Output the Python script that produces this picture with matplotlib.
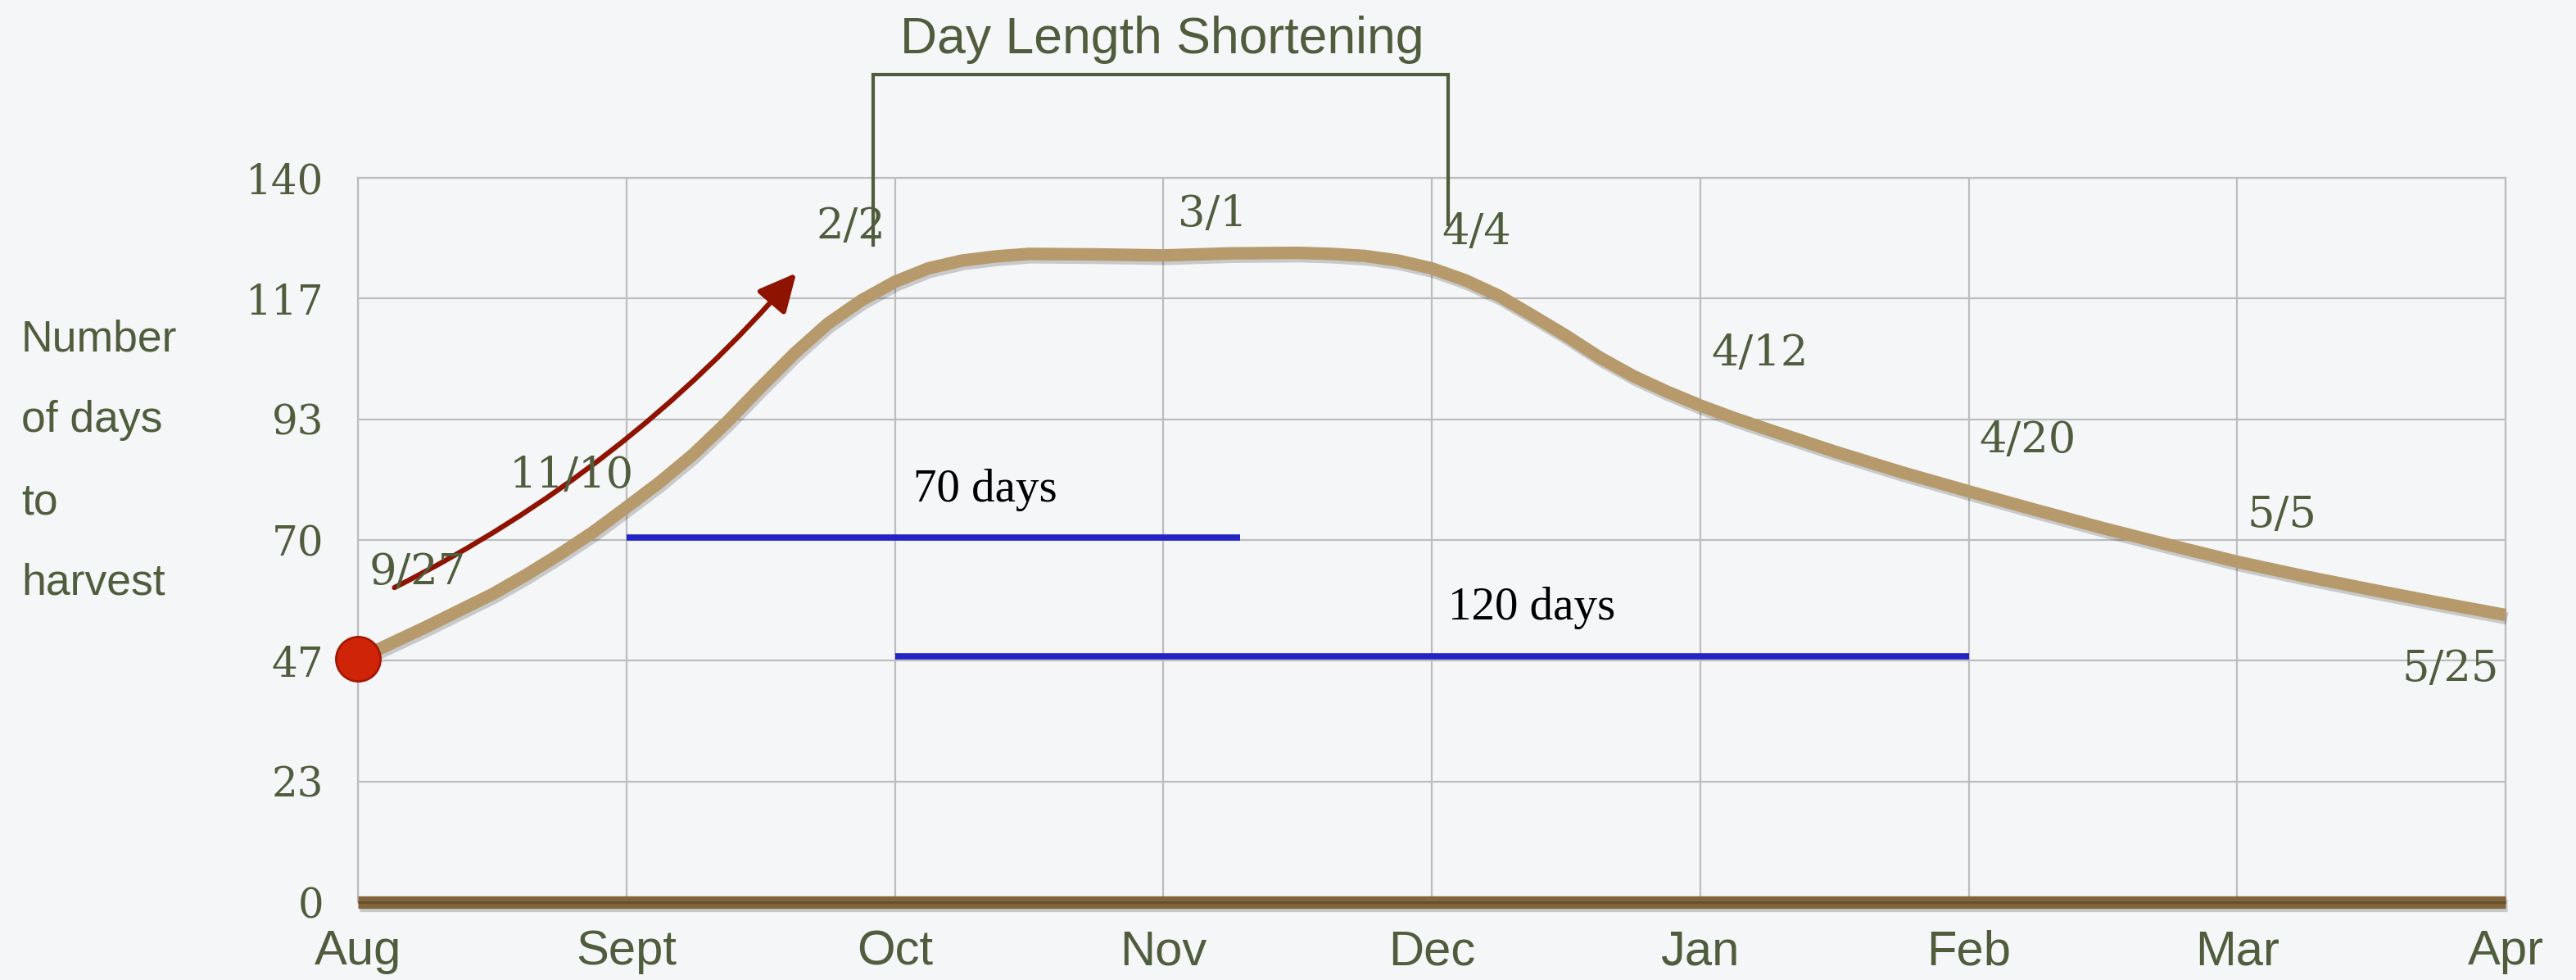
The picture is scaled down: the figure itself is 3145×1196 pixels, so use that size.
import matplotlib
matplotlib.use('Agg')
import matplotlib.pyplot as plt
import matplotlib.patheffects as pe
from matplotlib.patches import FancyArrowPatch
from matplotlib import font_manager

# ---------------- data ----------------
months = ['Aug', 'Sept', 'Oct', 'Nov', 'Dec', 'Jan', 'Feb', 'Mar', 'Apr']
ytick_labels = ['0', '23', '47', '70', '93', '117', '140']
ymax = 140

curve_x = [0, 0.25, 0.5, 0.625, 0.75, 0.875, 1.0, 1.125, 1.25, 1.375, 1.5, 1.625,
           1.75, 1.875, 2.0, 2.125, 2.25, 2.375, 2.5, 2.75, 3.0, 3.25, 3.5, 3.625,
           3.75, 3.875, 4.0, 4.125, 4.25, 4.375, 4.5, 4.625, 4.75, 4.875, 5.0,
           5.125, 5.25, 5.5, 5.75, 6.0, 6.25, 6.5, 6.75, 7.0, 7.25, 7.5, 7.75, 8.0]
curve_y = [47, 53.1, 59.5, 63.2, 67.2, 71.5, 76.3, 81.2, 86.6, 92.8, 99.5, 106,
           111.8, 116.3, 119.9, 122.5, 124, 124.8, 125.3, 125.2, 125.0, 125.4, 125.5, 125.3,
           124.9, 124.0, 122.5, 120.2, 117.2, 113.4, 109.5, 105.3, 101.7, 98.7, 96.0,
           93.6, 91.4, 87.1, 83.1, 79.4, 75.8, 72.3, 69, 65.8, 63, 60.4, 57.9, 55.5]

start_x, start_y = 0, 47

span_labels = ['70 days', '120 days']
span_start = [1, 2]
span_end = [3.285, 6]
span_value = [70.5, 47.5]
span_label_x = [2.07, 4.06]
span_label_y = [79.7, 56.9]

date_labels = ['9/27', '11/10', '2/2', '3/1', '4/4', '4/12', '4/20', '5/5', '5/25']
date_x = [0.043, 0.564, 1.708, 3.054, 4.039, 5.043, 6.04, 7.038, 7.615]
date_y = [63.8, 82.5, 130.5, 133.0, 129.5, 106.1, 89.2, 74.9, 45.1]

arrow_start = (0.136, 60.8)
arrow_end = (1.633, 121.6)

bracket_x = [1.92, 1.92, 4.06, 4.06]
bracket_y = [127, 160, 160, 131]
title = 'Day Length Shortening'
ylabel_lines = ['Number', 'of days', 'to', 'harvest']

# ---------------- style ----------------
names = {f.name for f in font_manager.fontManager.ttflist}
narrow = 'Liberation Sans Narrow' if 'Liberation Sans Narrow' in names else 'Liberation Sans'
olive = '#4f5d3d'
bg = '#f5f6f8'
grid_c = '#bdbdbd'

fig = plt.figure(figsize=(31.45, 11.96), dpi=100, facecolor=bg)
ax = fig.add_axes([437 / 3145, 1 - 1101 / 1196, (3059 - 437) / 3145, (1101 - 217) / 1196])
ax.set_facecolor(bg)
ax.set_xlim(0, 8)
ax.set_ylim(0, ymax)

yt = [ymax * i / 6 for i in range(7)]
ax.set_xticks(range(len(months)))
ax.set_xticklabels(months)
ax.set_yticks(yt)
ax.set_yticklabels(ytick_labels)
ax.grid(True, color=grid_c, lw=1.6, zorder=0)
ax.set_axisbelow(True)
for s in ['top', 'right', 'left']:
    ax.spines[s].set_color(grid_c)
    ax.spines[s].set_linewidth(1.6)
ax.spines['bottom'].set_visible(False)
ax.tick_params(length=0)
ax.tick_params(axis='y', pad=30, labelcolor=olive)
ax.tick_params(axis='x', pad=24, labelcolor=olive)
for lab in ax.get_yticklabels():
    lab.set_fontfamily('DejaVu Serif')
    lab.set_fontsize(36)
for lab in ax.get_xticklabels():
    lab.set_fontfamily(narrow)
    lab.set_fontsize(43)

shadow = [pe.SimpleLineShadow(offset=(1.5, -3), shadow_color='black', alpha=0.18), pe.Normal()]

# baseline bar
ax.plot([0, 8], [0, 0], color='#83653b', lw=11, solid_capstyle='butt', clip_on=False,
        zorder=4, path_effects=shadow)
ax.plot([0, 8], [0, 0], color='#67502e', lw=2.2, solid_capstyle='butt', clip_on=False, zorder=5)

# spans
for lab, x0, x1, v, lx, ly in zip(span_labels, span_start, span_end, span_value,
                                   span_label_x, span_label_y):
    ax.plot([x0, x1], [v, v], color='#2424c4', lw=5.5, solid_capstyle='butt', zorder=3)
    ax.text(lx, ly, lab, fontsize=41, family='Liberation Serif', color='black',
            ha='left', va='center', zorder=5)

# curve
ax.plot(curve_x, curve_y, color='#b79a6c', lw=11, solid_joinstyle='round',
        solid_capstyle='butt', zorder=4, clip_on=False, path_effects=shadow)

# start dot
ax.plot([start_x], [start_y], 'o', ms=39, mfc='#cf2407', mec='#a51805', mew=2,
        clip_on=False, zorder=7)

# arrow
arr = FancyArrowPatch(arrow_start, arrow_end, arrowstyle='-|>,head_length=0.45,head_width=0.22',
                      mutation_scale=62, connectionstyle='arc3,rad=0.1', color='#8e1300',
                      lw=4.5, shrinkA=0, shrinkB=0, zorder=6)
ax.add_patch(arr)

# date labels
for lab, x, y in zip(date_labels, date_x, date_y):
    ax.text(x, y, lab, fontsize=38, family='DejaVu Serif', color=olive,
            ha='left', va='center', zorder=8)

# bracket + title
ax.plot(bracket_x, bracket_y, color=olive, lw=3, clip_on=False, zorder=5,
        solid_joinstyle='miter')
fig.text(1419 / 3145, 1 - 48 / 1196, title, fontsize=45, family=narrow, color=olive,
         ha='center', va='center')

# y axis label
ys = [415, 513, 614, 712]
for t, y in zip(ylabel_lines, ys):
    fig.text(26 / 3145, 1 - y / 1196, t, fontsize=38.5, family='Liberation Sans', color=olive,
             ha='left', va='center')

fig.savefig('out.png', dpi=100, facecolor=bg)
